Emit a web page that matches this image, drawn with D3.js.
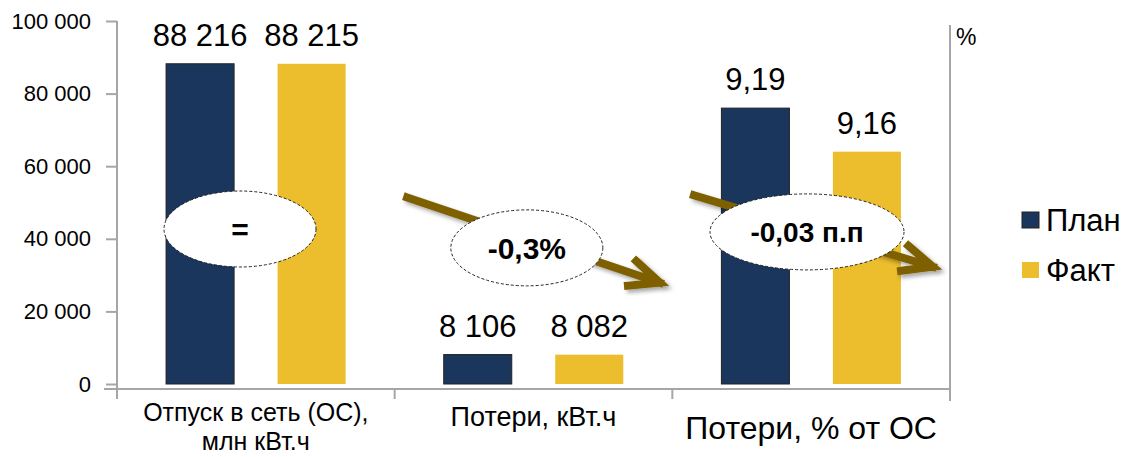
<!DOCTYPE html>
<html><head><meta charset="utf-8">
<script src="https://cdn.jsdelivr.net/npm/d3@7"></script>
<style>
html,body{margin:0;padding:0;background:#fff;}
svg{display:block;font-family:"Liberation Sans",Arial,sans-serif;}
</style></head>
<body><svg id="chart" width="1125" height="457"></svg>
<script>
// ---- data ----
const categories = ["Отпуск в сеть (ОС),|млн кВт.ч", "Потери, кВт.ч", "Потери, % от ОС"];
const seriesNames = ["План", "Факт"];
const planValues = [88216, 8106, 9.19];
const factValues = [88215, 8082, 9.16];
const valueAxis = ["left", "left", "right"];
const yTicks = [0, 20000, 40000, 60000, 80000, 100000];
const yDomain = [0, 100000];
const y2Domain = [9.0, 9.25];
const rightAxisTitle = "%";
const badgeTexts = ["=", "-0,3%", "-0,03 п.п"];

// ---- layout / style ----
const colors = {"План": "#1b365d", "Факт": "#ecbd2c"};
const arrowColor = "#7f6000";
const axisColor = "#a6a6a6";
const plot = {left: 117, right: 950, top: 21, bottom: 384, axisY: 389};

const ru = d3.formatLocale({decimal: ",", thousands: "\u00a0", grouping: [3], currency: ["", ""]});
const fmtInt = ru.format(",d");
const fmtPct = ru.format(".2f");

const svg = d3.select("#chart");
const x = d3.scaleBand().domain(categories).range([plot.left, plot.right]).paddingInner(0).paddingOuter(0);
const xs = d3.scaleBand().domain(seriesNames).range([0, x.bandwidth()]).paddingInner(0.39).paddingOuter(0.44);
const y = d3.scaleLinear().domain(yDomain).range([plot.bottom, plot.top]);
const y2 = d3.scaleLinear().domain(y2Domain).range([plot.bottom, plot.top]);

const defs = svg.append("defs");
const f = defs.append("filter").attr("id", "shadow").attr("x", "-20%").attr("y", "-50%").attr("width", "140%").attr("height", "200%");
f.append("feDropShadow").attr("dx", 3).attr("dy", 3).attr("stdDeviation", 2.2).attr("flood-color", "#000").attr("flood-opacity", 0.35);

// ---- axes ----
const yAxis = d3.axisLeft(y).tickValues(yTicks).tickSize(11).tickPadding(15).tickFormat(d => fmtInt(d));
const gy = svg.append("g").attr("transform", `translate(${plot.left},0)`).call(yAxis);
gy.select(".domain").remove();
gy.selectAll(".tick line").attr("stroke", axisColor).attr("stroke-width", 2);
gy.selectAll(".tick text").attr("font-size", 22).attr("fill", "#000").attr("font-family", "Liberation Sans, Arial, sans-serif");
svg.append("line").attr("x1", plot.left).attr("x2", plot.left).attr("y1", plot.top).attr("y2", plot.axisY + 10)
  .attr("stroke", axisColor).attr("stroke-width", 2);
// right axis
svg.append("line").attr("x1", plot.right).attr("x2", plot.right).attr("y1", y2(y2Domain[1]) + 4).attr("y2", plot.axisY + 12)
  .attr("stroke", axisColor).attr("stroke-width", 2);
svg.append("text").attr("x", plot.right + 6).attr("y", 45).attr("font-size", 23).text(rightAxisTitle);
// x axis
svg.append("line").attr("x1", plot.left - 13).attr("x2", plot.right).attr("y1", plot.axisY).attr("y2", plot.axisY)
  .attr("stroke", axisColor).attr("stroke-width", 2);
const bounds = categories.map(c => x(c)).concat([plot.right]);
svg.selectAll(".xtick").data(bounds).join("line")
  .attr("x1", d => d).attr("x2", d => d).attr("y1", plot.axisY).attr("y2", plot.axisY + 10)
  .attr("stroke", axisColor).attr("stroke-width", 2);
const catFont = [25, 27, 32];
const catBase = [421, 426, 439];
categories.forEach((c, i) => {
  const t = svg.append("text").attr("x", x(c) + x.bandwidth() / 2).attr("y", catBase[i])
    .attr("text-anchor", "middle").attr("font-size", catFont[i]);
  c.split("|").forEach((ln, j) => t.append("tspan").attr("x", x(c) + x.bandwidth() / 2).attr("dy", j ? 29 : 0).text(ln));
});

// ---- bars ----
const rows = [];
categories.forEach((c, i) => {
  const sc = valueAxis[i] === "left" ? y : y2;
  [planValues[i], factValues[i]].forEach((v, k) => {
    rows.push({cat: c, series: seriesNames[k], v, sc, label: valueAxis[i] === "left" ? fmtInt(v) : fmtPct(v)});
  });
});
svg.selectAll(".bar").data(rows).join("rect")
  .attr("x", d => x(d.cat) + xs(d.series))
  .attr("width", xs.bandwidth())
  .attr("y", d => d.sc(d.v))
  .attr("height", d => d.sc(d.sc.domain()[0]) - d.sc(d.v))
  .attr("fill", d => colors[d.series])
  .attr("stroke", d => d.series === "План" ? "#222" : "none")
  .attr("stroke-width", 1);
svg.selectAll(".vlab").data(rows).join("text")
  .attr("x", d => x(d.cat) + xs(d.series) + xs.bandwidth() / 2)
  .attr("y", d => d.sc(d.v) - 18)
  .attr("text-anchor", "middle").attr("font-size", 31).text(d => d.label);

// ---- annotations (positioned in band fraction / left-axis value space) ----
const px = (i, frac) => x(categories[i]) + frac * x.bandwidth();
const arrows = [
  {from: [1, 0.045, 51400], to: [1, 0.955, 27900]},
  {from: [2, 0.078, 52000], to: [2, 0.938, 32300]}
];
arrows.forEach(a => {
  const x1 = px(a.from[0], a.from[1]), y1 = y(a.from[2]);
  const x2 = px(a.to[0], a.to[1]), y2p = y(a.to[2]);
  const ang = Math.atan2(y2p - y1, x2 - x1);
  const L = 32, spread = 24 * Math.PI / 180;
  const b1 = [x2 - L * Math.cos(ang - spread), y2p - L * Math.sin(ang - spread)];
  const b2 = [x2 - L * Math.cos(ang + spread), y2p - L * Math.sin(ang + spread)];
  const g = svg.append("g").attr("filter", "url(#shadow)");
  g.append("path").attr("d", `M${x1},${y1}L${x2},${y2p}M${b1[0]},${b1[1]}L${x2},${y2p}L${b2[0]},${b2[1]}`)
    .attr("fill", "none").attr("stroke", arrowColor).attr("stroke-width", 8)
    .attr("stroke-linejoin", "miter").attr("stroke-linecap", "square");
});
const badges = [
  {c: [0, 0.443, 42700], rx: 76, ry: 38, size: 30},
  {c: [1, 0.476, 37500], rx: 76, ry: 38, size: 30},
  {c: [2, 0.485, 41900], rx: 97, ry: 38, size: 28}
];
badges.forEach((b, i) => {
  const cx = px(b.c[0], b.c[1]), cy = y(b.c[2]);
  svg.append("ellipse").attr("cx", cx).attr("cy", cy).attr("rx", b.rx).attr("ry", b.ry)
    .attr("fill", "#fff").attr("stroke", "#222").attr("stroke-width", 1).attr("stroke-dasharray", "3,2");
  svg.append("text").attr("x", cx).attr("y", cy + 1).attr("text-anchor", "middle").attr("dominant-baseline", "central")
    .attr("font-size", b.size).attr("font-weight", "bold").text(badgeTexts[i]);
});

// ---- legend ----
const lg = svg.append("g").attr("transform", "translate(1022,212)");
seriesNames.forEach((s, i) => {
  lg.append("rect").attr("x", 0).attr("y", i * 50).attr("width", 17).attr("height", 16).attr("fill", colors[s])
    .attr("stroke", s === "План" ? "#222" : "none").attr("stroke-width", 1);
  lg.append("text").attr("x", 24).attr("y", i * 50 + 19).attr("font-size", 31).text(s);
});
</script></body></html>
